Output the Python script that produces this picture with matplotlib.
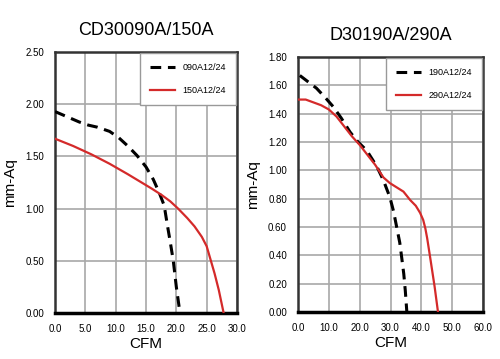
import matplotlib
matplotlib.use("Agg")
import matplotlib.pyplot as plt

# left chart data (CD30090A/150A)
cfm_090 = [0, 2, 4, 5.5, 7, 9, 10.5, 12, 13.5, 15, 16.2, 17.2, 18.0, 18.5, 19.0, 19.5, 20.0, 20.6]
aq_090 = [1.93, 1.88, 1.83, 1.80, 1.78, 1.74, 1.68, 1.60, 1.51, 1.40, 1.28, 1.15, 1.03, 0.85, 0.68, 0.50, 0.25, 0.0]
cfm_150 = [0, 3, 6, 9, 12, 14, 16, 17.6, 19, 20.3, 21.8, 23.0, 24.2, 25.0, 25.6, 26.3, 27.0, 27.8]
aq_150 = [1.67, 1.60, 1.52, 1.43, 1.33, 1.26, 1.19, 1.13, 1.07, 1.0, 0.91, 0.83, 0.73, 0.64, 0.52, 0.38, 0.22, 0.0]

# right chart data (D30190A/290A)
cfm_190 = [0.6, 3, 6, 9, 11.4, 14, 16.9, 19.5, 22.3, 25.5, 27.7, 29.8, 31, 32, 33, 33.6, 34.3, 34.8, 35.3]
aq_190 = [1.67, 1.63, 1.58, 1.51, 1.45, 1.37, 1.27, 1.20, 1.14, 1.03, 0.93, 0.81, 0.71, 0.60, 0.49, 0.39, 0.27, 0.15, 0.0]
cfm_290 = [0, 2.5, 5, 7.5, 10, 12.5, 15, 17.5, 20, 22.5, 25, 27.7, 29.8, 32, 34.2, 36.4, 38.2, 39.6, 40.6, 41.3,
           41.9, 42.4, 42.9, 43.6, 44.3, 45.4]
aq_290 = [1.50, 1.50, 1.48, 1.46, 1.43, 1.38, 1.31, 1.24, 1.18, 1.11, 1.04, 0.95, 0.91, 0.88, 0.85, 0.79, 0.75, 0.70,
          0.65, 0.59, 0.52, 0.45, 0.38, 0.28, 0.18, 0.0]

left_xticks = [0, 5, 10, 15, 20, 25, 30]
left_yticks = [0, 0.5, 1.0, 1.5, 2.0, 2.5]
right_xticks = [0, 10, 20, 30, 40, 50, 60]
right_yticks = [0, 0.2, 0.4, 0.6, 0.8, 1.0, 1.2, 1.4, 1.6, 1.8]

plt.rcParams['font.family'] = ['Liberation Sans Narrow', 'Liberation Sans', 'DejaVu Sans']
RED = "#d42a2a"

fig = plt.figure(figsize=(5, 3.59), dpi=100)


def make_chart(rect, title, xs, ys, xticks, yticks, labels):
    ax = fig.add_axes(rect)
    ax.plot(xs[0], ys[0], color="black", lw=2.2, ls=(0, (3.5, 2.2)), label=labels[0], zorder=3)
    ax.plot(xs[1], ys[1], color=RED, lw=1.6, label=labels[1], zorder=3)
    ax.set_xlim(xticks[0], xticks[-1])
    ax.set_ylim(yticks[0], yticks[-1])
    ax.set_xticks(xticks)
    ax.set_yticks(yticks)
    ax.set_xticklabels(["%.1f" % t for t in xticks], fontsize=7)
    ax.set_yticklabels(["%.2f" % t for t in yticks], fontsize=7)
    ax.tick_params(length=0, pad=8)
    ax.grid(True, color="#a8a8a8", lw=1.2)
    ax.set_axisbelow(True)
    for s in ax.spines.values():
        s.set_linewidth(1.8)
        s.set_color("#333333")
    ax.spines['bottom'].set_linewidth(2.5)
    ax.spines['bottom'].set_color("black")
    ax.set_title(title, fontsize=13, pad=12)
    ax.set_xlabel("CFM", fontsize=11, labelpad=2)
    ax.set_ylabel("mm-Aq", fontsize=11, labelpad=6)
    leg = ax.legend(loc="upper right", fontsize=6.5, handlelength=2.8, labelspacing=1.6,
                    borderpad=1.1, fancybox=False, framealpha=1, borderaxespad=0.1)
    leg.get_frame().set_edgecolor("#999999")
    return ax


make_chart([0.11, 0.128, 0.364, 0.727], "CD30090A/150A",
           [cfm_090, cfm_150], [aq_090, aq_150], left_xticks, left_yticks,
           ["090A12/24", "150A12/24"])
make_chart([0.596, 0.131, 0.37, 0.71], "D30190A/290A",
           [cfm_190, cfm_290], [aq_190, aq_290], right_xticks, right_yticks,
           ["190A12/24", "290A12/24"])

fig.savefig("out.png", dpi=100)
